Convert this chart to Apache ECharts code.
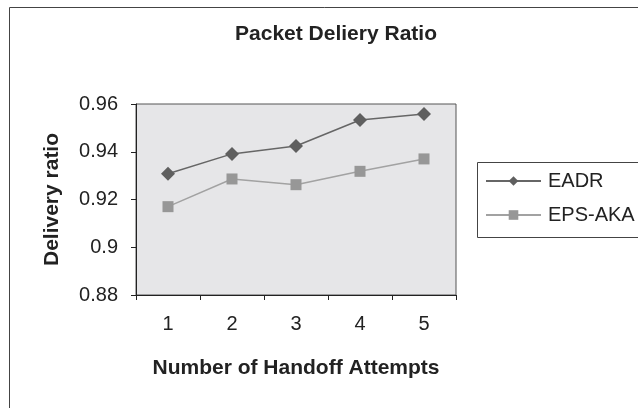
<!DOCTYPE html>
<html>
<head>
<meta charset="utf-8">
<script src="https://cdn.jsdelivr.net/npm/echarts@6/dist/echarts.min.js"></script>
<style>html,body{margin:0;padding:0;background:#fff}#c{width:638px;height:408px}</style>
</head>
<body>
<div id="c"></div>
<script>
var categories = ['1', '2', '3', '4', '5'];
var eadr = [0.9308, 0.9391, 0.9424, 0.9533, 0.9558];
var epsAka = [0.9170, 0.9286, 0.9262, 0.9318, 0.9370];
var yTickLabels = ['0.88', '0.9', '0.92', '0.94', '0.96'];
var yMin = 0.88, yMax = 0.96, yStep = 0.02;

var chart = echarts.init(document.getElementById('c'), null, {renderer: 'canvas'});
var font = 'Liberation Sans, Arial, sans-serif';
chart.setOption({
  animation: false,
  backgroundColor: '#fff',
  title: {
    text: 'Packet Deliery Ratio',
    left: 331, top: 19, textAlign: 'center',
    textStyle: {fontFamily: font, fontSize: 21, fontWeight: 'bold', color: '#222'}
  },
  graphic: [
    {type: 'rect', shape: {x: 9.5, y: 7.5, width: 700, height: 500}, style: {fill: 'none', stroke: '#444', lineWidth: 1}, z: 0},
    {type: 'rect', shape: {x: 477.5, y: 162.5, width: 300, height: 75}, style: {fill: '#fff', stroke: '#444', lineWidth: 1}, z: 1}
  ],
  legend: {
    orient: 'vertical', left: 485, top: 171, itemGap: 14, padding: 0,
    itemWidth: 55, itemHeight: 12,
    textStyle: {fontFamily: font, fontSize: 20, color: '#222', padding: [0, 0, 0, 2]},
    data: ['EADR', 'EPS-AKA'], z: 5
  },
  grid: {left: 136, right: 182, top: 104, bottom: 113, show: true, backgroundColor: '#e6e6e8', borderColor: '#555', borderWidth: 1},
  xAxis: {
    type: 'category', data: categories, boundaryGap: true,
    name: 'Number of Handoff Attempts', nameLocation: 'middle', nameGap: 63,
    nameTextStyle: {fontFamily: font, fontSize: 21, fontWeight: 'bold', color: '#222'},
    axisLine: {lineStyle: {color: '#222', width: 1}},
    axisTick: {show: true, inside: false, length: 5, alignWithLabel: false, lineStyle: {color: '#222'}},
    axisLabel: {fontFamily: font, fontSize: 20, color: '#222', margin: 19},
    splitLine: {show: false}
  },
  yAxis: {
    type: 'value', min: yMin, max: yMax, interval: yStep,
    name: 'Delivery ratio', nameLocation: 'middle', nameGap: 73,
    nameTextStyle: {fontFamily: font, fontSize: 21, fontWeight: 'bold', color: '#222'},
    axisLine: {show: true, lineStyle: {color: '#222', width: 1}},
    axisTick: {show: true, inside: false, length: 5, lineStyle: {color: '#222'}},
    axisLabel: {fontFamily: font, fontSize: 20, color: '#222', margin: 18,
      formatter: function (v) { var i = Math.round((v - yMin) / yStep); return yTickLabels[i]; }},
    splitLine: {show: false}
  },
  series: [
    {name: 'EADR', type: 'line', data: eadr, symbol: 'diamond', symbolSize: 14,
      lineStyle: {color: '#666666', width: 1.5}, itemStyle: {color: '#5f5f5f'}, z: 3},
    {name: 'EPS-AKA', type: 'line', data: epsAka, symbol: 'rect', symbolSize: 11,
      lineStyle: {color: '#a2a2a2', width: 1.5}, itemStyle: {color: '#979797'}, z: 2}
  ]
});
</script>
</body>
</html>
